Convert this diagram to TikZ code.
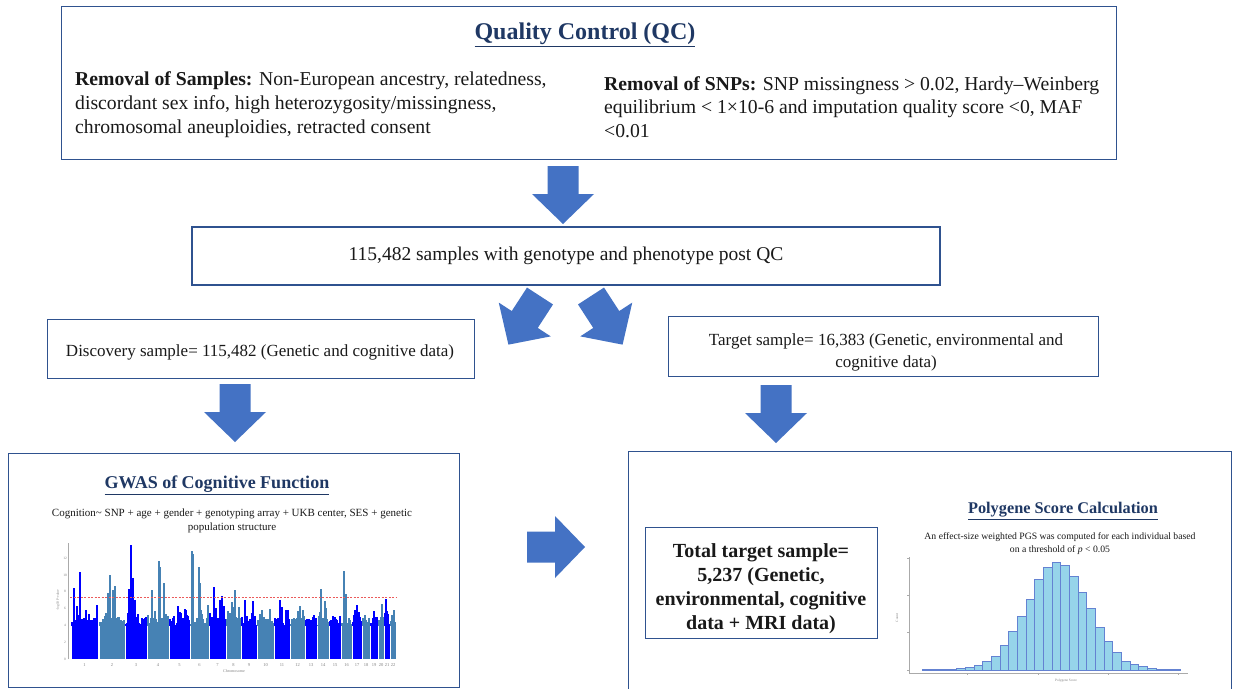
\documentclass[tikz,border=0pt]{standalone}
\usepackage{fontspec}
\setmainfont{Liberation Serif}
\usetikzlibrary{calc}

\definecolor{frame}{RGB}{47,82,143}
\definecolor{navy}{RGB}{31,56,100}
\definecolor{arrowblue}{RGB}{68,114,196}
\definecolor{chrA}{RGB}{0,0,255}
\definecolor{chrB}{RGB}{70,130,180}
\definecolor{barfillc}{RGB}{150,212,234}
\definecolor{baredge}{RGB}{100,130,210}
\definecolor{ink}{RGB}{25,25,25}
\definecolor{axisgray}{RGB}{170,170,170}
\definecolor{sigred}{RGB}{235,90,90}

\newcommand\fsz[2]{\fontsize{#1}{#2}\selectfont}

\tikzset{
  box/.style={draw=frame, line width=1.3pt, fill=white, inner sep=0pt},
  heading/.style={text=navy, inner sep=0pt},
  body/.style={text=ink, inner sep=0pt},
  tiny/.style={text=gray, inner sep=0pt, font=\fsz{4.5}{5}},
  barstyle/.style={fill=barfillc, draw=baredge, line width=0.5pt},
  blockarrow/.pic={
    \fill[arrowblue] (0,-15.5) -- (28,-15.5) -- (28,-31) -- (58,0)
      -- (28,31) -- (28,15.5) -- (0,15.5) -- cycle;
  }
}

\begin{document}
\begin{tikzpicture}[x=1pt, y=-1pt]
\useasboundingbox (0,0) rectangle (1233,688);
\fill[white] (0,0) rectangle (1233,688);
\clip (0,0) rectangle (1233,688);

% ---------- quality control ----------
\node[box, anchor=north west, minimum width=1055pt, minimum height=153pt] (qc) at (61,6) {};
\node[heading, font=\fsz{24}{28}\bfseries] (qctitle) at (585,35) {\underline{Quality Control (QC)}};
\node[body, anchor=north west, align=left, font=\fsz{19.7}{24.3}] (qcsamples) at (75,71)
  {\textbf{Removal of Samples:} Non-European ancestry, relatedness,\\
   discordant sex info, high heterozygosity/missingness,\\
   chromosomal aneuploidies, retracted consent};
\node[body, anchor=north west, align=left, font=\fsz{19.7}{23.7}] (qcsnps) at (604,76)
  {\textbf{Removal of SNPs:} SNP missingness > 0.02, Hardy–Weinberg\\
   equilibrium < 1×10-6 and imputation quality score <0, MAF\\
   <0.01};

% ---------- samples after QC ----------
\node[box, minimum width=748pt, minimum height=58pt, font=\fsz{19.5}{24}, text=ink] (post) at (566,256)
  {115,482 samples with genotype and phenotype post QC};

% ---------- discovery and target samples ----------
\node[box, anchor=north west, minimum width=427pt, minimum height=59pt] (disc) at (47,319) {};
\node[body, font=\fsz{17}{21}] (disctext) at (260,352)
  {Discovery sample= 115,482 (Genetic and cognitive data)};
\node[box, anchor=north west, minimum width=430pt, minimum height=60pt] (tgt) at (668,316) {};
\node[body, align=center, font=\fsz{17}{22}] (tgttext) at (886,352)
  {Target sample= 16,383 (Genetic, environmental and\\ cognitive data)};

% ---------- block arrows ----------
\pic[rotate=-90] at (563,166) {blockarrow};
\pic[rotate=-123] at (540,296) {blockarrow};
\pic[rotate=-57] at (591,296) {blockarrow};
\pic[rotate=-90] at (235,384) {blockarrow};
\pic[rotate=-90] at (776,385) {blockarrow};
\pic at (527,547) {blockarrow};

% ---------- GWAS panel ----------
\node[box, anchor=north west, minimum width=451pt, minimum height=234pt] (gwas) at (8,453) {};
\node[heading, font=\fsz{18}{22}\bfseries] (gwastitle) at (217,485) {\underline{GWAS of Cognitive Function}};
\node[body, align=center, font=\fsz{11}{14}] (gwasmodel) at (232,521)
  {Cognition\textasciitilde{} SNP + age + gender + genotyping array + UKB center, SES + genetic\\ population structure};

\begin{scope}[shift={(0,659)}, yscale=-8.4]
  \pgfmathsetseed{4242}
  % chromosome blocks: dense lower band plus random upper edge
  \foreach \a/\b/\c [count=\i] in {72/97/chrA,100/124/chrB,126/146/chrA,148/168/chrB,
      170/189/chrA,191/208/chrB,210/225/chrA,227/240/chrB,242/256/chrA,258/273/chrB,
      275/289/chrA,291/304/chrB,306/316/chrA,318/328/chrB,330/340/chrA,342/351/chrB,
      353/361/chrA,363/369/chrB,371/377/chrA,379/383/chrB,385/389/chrA,391/395/chrB}{
    \fill[\c] (\a-0.5,0) rectangle (\b+0.5,4.0);
    \foreach \x in {\a,...,\b}{
      \pgfmathsetmacro\h{4.0+1.0*rnd+1.8*rnd^5}
      \draw[\c, line width=1.1pt] (\x,3.9) -- (\x,\h);
    }
    \node[tiny] (chr\i) at ({(\a+\b)/2},-0.75) {\i};
  }
  % association peaks
  \foreach \x/\h/\c in {74/8.5/chrA,80/10.3/chrA,77/6.3/chrA,108/7.8/chrB,110/10/chrB,
      113/8.2/chrB,115/8.7/chrB,129/8.3/chrA,131/13.6/chrA,133/9.6/chrA,135/7/chrA,
      152/8.2/chrB,159/11.7/chrB,160/11/chrB,164/9/chrB,178/6.3/chrA,185/5.9/chrA,
      192/12.8/chrB,193/12.5/chrB,199/10.9/chrB,200/9/chrB,214/8.6/chrA,220/7/chrA,
      222/7.5/chrA,232/6.8/chrB,235/8.2/chrB,245/7/chrA,253/6.9/chrA,262/5.8/chrB,
      280/7/chrA,300/6.3/chrB,321/8.3/chrB,325/6.9/chrB,344/10.5/chrB,346/7.7/chrB,
      357/6.4/chrA,386/7.2/chrA}{
    \draw[\c, line width=1.5pt] (\x,4) -- (\x,\h);
  }
  % genome-wide significance line
  \draw[sigred, line width=0.7pt, dash pattern=on 2pt off 1.5pt] (70,7.3) -- (397,7.3);
  % axes
  \draw[axisgray, line width=0.4pt] (68,0) -- (68,13.8);
  \foreach \t in {0,2,...,12}{
    \node[tiny, font=\fsz{3.5}{4}] (ytick\t) at (65,\t) {\t};
  }
  \node[tiny, font=\fsz{4}{5}] (chromlabel) at (234,-1.45) {Chromosome};
  \node[tiny, font=\fsz{3.5}{4}, rotate=90] (ylabel) at (58,7) {-log10 P-value};
\end{scope}

% ---------- target / polygene score panel ----------
\node[box, anchor=north west, minimum width=603pt, minimum height=260pt] (pgs) at (628,451) {};
\node[box, anchor=north west, minimum width=232pt, minimum height=111pt] (total) at (645,527) {};
\node[body, align=center, font=\fsz{20}{24}\bfseries] (totaltext) at (761,589)
  {Total target sample=\\ 5,237 (Genetic,\\ environmental, cognitive\\ data + MRI data)};
\node[heading, font=\fsz{16.3}{20}\bfseries] (pgstitle) at (1063,511) {\underline{Polygene Score Calculation}};
\node[body, align=center, font=\fsz{9.7}{13}] (pgstext) at (1060,544)
  {An effect-size weighted PGS was computed for each individual based\\ on a threshold of \textit{p} < 0.05};

% histogram of scores
\draw[axisgray, line width=0.4pt] (909,557) -- (909,673) -- (1188,673);
\foreach \yy in {558,595,632,670}{
  \draw[axisgray, line width=0.4pt] (907,\yy) -- (909,\yy);
}
\foreach \xx in {967,1038,1108,1178}{
  \draw[axisgray, line width=0.4pt] (\xx,673) -- (\xx,675);
}
\draw[barstyle] (922,670) rectangle (956.7,669.3);
\draw[barstyle] (1164.7,670) rectangle (1180,669.4);
\foreach \h [count=\i from 0] in {1.7,2.7,5,9,13.3,25,38.3,53.3,70.7,90.7,102.7,107.3,
    105,94,77.7,61.7,42.3,29,17.7,9,6,3.3,2,1}{
  \draw[barstyle] (956.7+\i*8.667,670) rectangle ++(8.667,-\h);
}
\node[tiny, font=\fsz{3.5}{4}, rotate=90] (countlabel) at (897,618) {Count};
\node[tiny, font=\fsz{3.5}{4}] (scorelabel) at (1066,681) {Polygene Score};
\end{tikzpicture}
\end{document}
